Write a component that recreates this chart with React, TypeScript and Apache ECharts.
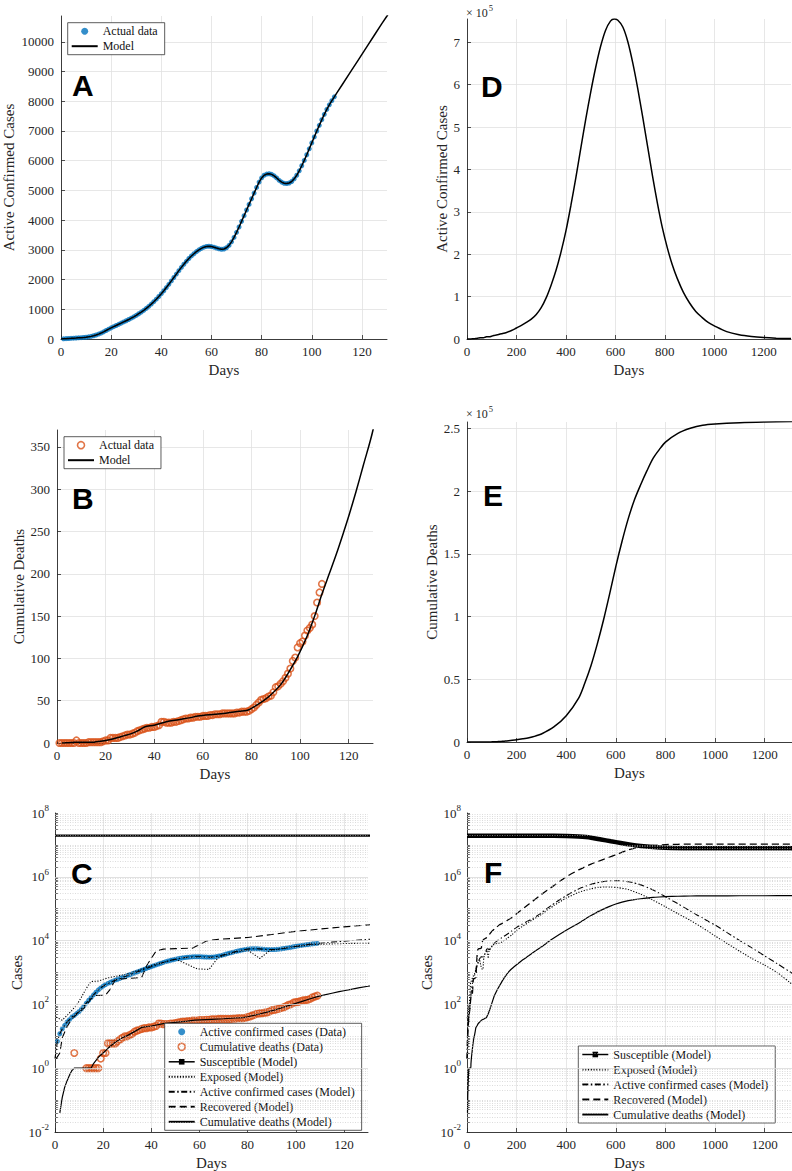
import React, { useEffect, useRef } from 'react';
import * as echarts from 'echarts';

// ---------- DATA ----------
const SHORT_DAYS_MAX = 130;
const LONG_DAYS_MAX = 1310;
const LOG_TICKS = [0.01, 1, 100, 1e4, 1e6, 1e8];

// Active confirmed cases (data), days 1..109
const ACTIVE_DATA = [
  7, 12, 17, 22, 28, 33, 40, 45, 52, 60,
  72, 88, 110, 135, 165, 200, 240, 285, 330, 375,
  415, 455, 495, 535, 575, 615, 655, 700, 745, 795,
  850, 905, 965, 1030, 1100, 1175, 1255, 1340, 1430, 1525,
  1625, 1730, 1840, 1955, 2070, 2185, 2300, 2410, 2515, 2615,
  2710, 2795, 2870, 2940, 3000, 3050, 3090, 3115, 3120, 3110,
  3090, 3060, 3035, 3020, 3030, 3070, 3150, 3270, 3420, 3590,
  3770, 3960, 4150, 4340, 4530, 4720, 4910, 5100, 5280, 5420,
  5510, 5550, 5560, 5540, 5490, 5420, 5340, 5280, 5240, 5230,
  5250, 5300, 5390, 5510, 5660, 5830, 6010, 6200, 6400, 6600,
  6800, 7000, 7190, 7380, 7560, 7730, 7880, 8020, 8150,
];

// Cumulative deaths (data), days 1..109
const DEATHS_DATA = [
  0, 0, 0, 0, 0, 0, 0, 3, 0, 0,
  0, 0, 1, 1, 1, 1, 1, 1, 2, 3,
  3, 6, 6, 6, 6, 7, 8, 9, 10, 10,
  11, 12, 14, 15, 16, 17, 18, 18, 19, 19,
  20, 21, 25, 25, 24, 24, 24, 25, 25, 26,
  27, 28, 29, 29, 30, 30, 31, 31, 31, 32,
  32, 32, 33, 33, 34, 34, 34, 35, 35, 35,
  35, 35, 35, 36, 36, 37, 37, 37, 38, 40,
  42, 45, 48, 51, 52, 53, 55, 56, 60, 66,
  67, 70, 73, 77, 82, 88, 97, 101, 113, 118,
  120, 127, 133, 136, 140, 150, 166, 178, 188,
];

// Model curves as [day, value]
const ACTIVE_MODEL_START = [[0, 2]];
const ACTIVE_MODEL_EXT = [
  [110, 8280], [112, 8540], [115, 8930], [118, 9320], [120, 9580],
  [122, 9840], [125, 10230], [128, 10620], [130, 10870],
];
const ACTIVE_MODEL_LONG = [
  [140, 12300], [160, 15500], [180, 20000], [200, 26000], [220, 32000],
  [240, 39000], [260, 47000], [280, 58000], [300, 74000], [320, 97000],
  [340, 127000], [360, 162000], [380, 205000], [400, 255000], [420, 315000],
  [440, 380000], [460, 450000], [480, 518000], [500, 582000], [520, 640000],
  [540, 690000], [560, 728000], [580, 750000], [595, 755000], [610, 752000],
  [630, 736000], [650, 702000], [670, 652000], [690, 592000], [710, 525000],
  [730, 455000], [750, 385000], [770, 320000], [790, 262000], [810, 215000],
  [830, 175000], [850, 143000], [875, 110000], [900, 85000], [925, 65000],
  [950, 51000], [975, 39000], [1000, 31000], [1050, 17500], [1100, 10000],
  [1150, 5800], [1200, 3300], [1250, 1900], [1310, 950],
];

const DEATHS_MODEL = [
  [2, 0.04], [3, 0.12], [4, 0.25], [5, 0.4], [6, 0.6], [7, 0.85], [8, 1],
  [15, 1], [16, 1.4], [18, 2.2], [20, 3], [22, 4.2], [25, 6.5], [28, 9],
  [30, 10.5], [33, 14], [36, 19], [40, 21], [45, 25], [50, 27.5], [55, 30],
  [58, 32], [65, 34], [70, 35.5], [75, 37.5], [78, 38.5], [80, 41], [85, 50],
  [88, 57], [92, 69], [95, 82], [99, 102], [103, 127], [106, 150], [109, 176],
  [112, 200], [115, 224], [118, 250], [120, 268], [123, 297], [126, 328], [130, 370],
];
const DEATHS_MODEL_LONG = [
  [140, 510], [150, 680], [160, 880], [175, 1200], [200, 1750], [225, 2500],
  [250, 3400], [275, 4700], [300, 6400], [350, 12000], [400, 21000],
  [450, 35000], [475, 47000], [500, 61000], [525, 78000], [550, 97000],
  [575, 118000], [600, 140000], [625, 160000], [650, 178000], [675, 193000],
  [700, 205000], [725, 216000], [750, 226000], [775, 233000], [800, 239000],
  [850, 246000], [900, 250000], [950, 252500], [1000, 253500], [1100, 254500],
  [1200, 255000], [1310, 255300],
];

const EXPOSED_MODEL = [
  [0.5, 40], [3, 32], [5, 45], [7, 65], [9, 95], [11, 170], [13, 320], [15, 520],
  [18, 540], [22, 680], [26, 780], [30, 900], [35, 1200], [40, 1650], [45, 2100],
  [50, 2600], [53, 2100], [56, 1650], [59, 1300], [64, 1250], [66, 2000],
  [68, 3000], [72, 3700], [76, 4500], [80, 5000], [82, 4000], [85, 2750],
  [87, 3600], [89, 4800], [95, 5800], [100, 6500], [105, 7200], [110, 7700],
  [120, 8100], [130, 8300],
];
const EXPOSED_MODEL_LONG = [
  [140, 9000], [160, 11500], [180, 15000], [200, 21000], [250, 38000],
  [300, 66000], [350, 125000], [400, 215000], [450, 325000], [500, 420000],
  [530, 465000], [555, 480000], [580, 478000], [610, 455000], [650, 400000],
  [700, 285000], [750, 185000], [800, 115000], [850, 70000], [900, 43000],
  [950, 25000], [1000, 14000], [1050, 8000], [1100, 4600], [1150, 2700],
  [1200, 1700], [1250, 1000], [1310, 430],
];

const RECOVERED_MODEL = [
  [0.5, 2], [2, 3], [3, 9], [5, 20], [7, 35], [9, 50], [12, 75], [15, 150],
  [17, 190], [21, 195], [23, 300], [25, 600], [30, 650], [36, 700], [38, 1600],
  [40, 2800], [42, 4700], [45, 5400], [50, 5600], [57, 5800], [60, 7500],
  [63, 9800], [68, 11000], [80, 12500], [90, 15500], [100, 19500],
  [110, 23000], [120, 27000], [130, 31000],
];
const RECOVERED_MODEL_LONG = [
  [140, 34000], [160, 42000], [180, 52000], [200, 70000], [250, 140000],
  [300, 280000], [350, 530000], [400, 1000000], [450, 1650000], [500, 2500000],
  [550, 3500000], [600, 4900000], [650, 7000000], [700, 8600000], [750, 9600000],
  [800, 10200000], [850, 10450000], [900, 10550000], [1000, 10600000], [1310, 10600000],
];

const SUSCEPTIBLE_MODEL = [
  [0, 1.95e7], [350, 1.93e7], [400, 1.9e7], [450, 1.82e7], [500, 1.68e7],
  [540, 1.48e7], [580, 1.3e7], [620, 1.15e7], [660, 1.02e7], [700, 9.3e6],
  [750, 8.6e6], [800, 8.2e6], [900, 7.9e6], [1000, 7.8e6], [1310, 7.8e6],
];

const PANEL_LETTERS = ['A', 'D', 'B', 'E', 'C', 'F'];

// ---------- STYLE ----------
const SERIF = "'Liberation Serif', 'Times New Roman', Times, serif";
const SANS = "'Liberation Sans', Arial, Helvetica, sans-serif";
const AX = '#262626';
const GRIDC = '#e1e1e1';
const BLUE = '#0072BD';
const ORANGE = '#D95319';

const DOTTED = [1.2, 1.6];
const DASHDOT = [6, 2.5, 1.5, 2.5];
const DASHED = [7, 4];

function minorLogValues() {
  const out: number[] = [];
  for (let e = -2; e < 8; e++) {
    for (let m = 1; m <= 9; m++) {
      if (m === 1 && e % 2 === 0) continue;
      out.push(m * Math.pow(10, e));
    }
  }
  return out;
}

function xAxisCfg(gridIndex: number, max: number, interval: number) {
  return {
    type: 'value', gridIndex, min: 0, max, interval,
    name: 'Days', nameLocation: 'middle', nameGap: 23,
    nameTextStyle: { fontFamily: SERIF, fontSize: 15, color: AX },
    axisLine: { show: true, onZero: false, lineStyle: { color: AX, width: 0.9 } },
    axisTick: { show: true, inside: true, length: 4, lineStyle: { color: AX, width: 0.8 } },
    axisLabel: {
      margin: 6, fontFamily: SERIF, fontSize: 13, color: AX, showMaxLabel: false,
      formatter: (v: number) => String(v),
    },
    splitLine: { show: true, showMinLine: false, showMaxLine: false, lineStyle: { color: GRIDC, width: 0.8 } },
  };
}

function yAxisLin(gridIndex: number, max: number, interval: number, name: string, nameGap: number, scale?: number) {
  return {
    type: 'value', gridIndex, min: 0, max, interval,
    name, nameLocation: 'middle', nameGap,
    nameTextStyle: { fontFamily: SERIF, fontSize: 15, color: AX },
    axisLine: { show: true, onZero: false, lineStyle: { color: AX, width: 0.9 } },
    axisTick: { show: true, inside: true, length: 4, lineStyle: { color: AX, width: 0.8 } },
    axisLabel: {
      margin: 7, fontFamily: SERIF, fontSize: 13, color: AX, showMaxLabel: false,
      formatter: (v: number) => (scale ? String(+(v / scale).toFixed(2)) : String(v)),
    },
    splitLine: { show: true, showMinLine: false, showMaxLine: false, lineStyle: { color: GRIDC, width: 0.8 } },
  };
}

function yAxisLog(gridIndex: number, name: string, nameGap: number, tickValues: number[]) {
  return {
    type: 'log', logBase: 10, gridIndex, min: 0.01, max: 1e8,
    name, nameLocation: 'middle', nameGap,
    nameTextStyle: { fontFamily: SERIF, fontSize: 15, color: AX },
    axisLine: { show: true, onZero: false, lineStyle: { color: AX, width: 0.9 } },
    axisTick: { show: true, inside: true, length: 3, customValues: tickValues, lineStyle: { color: AX, width: 0.7 } },
    axisLabel: {
      margin: 6, color: AX, customValues: LOG_TICKS, hideOverlap: false,
      formatter: (v: number) => '{b|10}{s|' + Math.round(Math.log10(v)) + '}',
      rich: {
        b: { fontFamily: SERIF, fontSize: 13, color: AX },
        s: { fontFamily: SERIF, fontSize: 9, color: AX, padding: [0, 0, 10, 0] },
      },
    },
    splitLine: { show: false },
  };
}

function legendCfg(left: number, top: number, names: any[]) {
  return {
    show: true, orient: 'vertical', left, top, data: names,
    formatter: (n: string) => n.split('|')[0],
    itemWidth: 26, itemHeight: 7, itemGap: 0,
    padding: [1, 7, 1, 3],
    borderColor: '#333', borderWidth: 0.8, backgroundColor: '#ffffff',
    selectedMode: false,
    textStyle: { fontFamily: SERIF, fontSize: 12, color: '#111', lineHeight: 15 },
  };
}

const pts = (arr: number[]) => arr.map((v, i) => [i + 1, v]);

export default function App() {
  const ref = useRef<HTMLDivElement>(null);

  useEffect(() => {
    if (!ref.current) return;
    const chart = echarts.init(ref.current, undefined, { renderer: 'svg' });

    const activeDataPts = pts(ACTIVE_DATA);
    const deathsDataPts = pts(DEATHS_DATA);
    const deathsDataLog = deathsDataPts.filter((p) => p[1] > 0);
    const activeModel = [...ACTIVE_MODEL_START, ...activeDataPts, ...ACTIVE_MODEL_EXT, ...ACTIVE_MODEL_LONG];
    const deathsModel = [...DEATHS_MODEL, ...DEATHS_MODEL_LONG];
    const exposedModel = [...EXPOSED_MODEL, ...EXPOSED_MODEL_LONG];
    const recoveredModel = [...RECOVERED_MODEL, ...RECOVERED_MODEL_LONG];
    const minor = minorLogValues();
    const allLogTicks = [...LOG_TICKS, ...minor].sort((a, b) => a - b);

    const lineBase = (name: string, idx: number, data: any[], width: number, type: any, extra: any = {}) => ({
      type: 'line', name, xAxisIndex: idx, yAxisIndex: idx, data,
      symbol: 'none', showSymbol: false, smooth: false, z: 3,
      lineStyle: { color: '#000', width, type },
      itemStyle: { color: '#000' },
      ...extra,
    });

    const blueDots = (name: string, idx: number) => ({
      type: 'scatter', name, xAxisIndex: idx, yAxisIndex: idx, data: activeDataPts,
      symbol: 'circle', symbolSize: 5, z: 2,
      itemStyle: { color: BLUE },
    });
    const orangeCircles = (name: string, idx: number, data: any[]) => ({
      type: 'scatter', name, xAxisIndex: idx, yAxisIndex: idx, data,
      symbol: 'circle', symbolSize: 6.5, z: 2,
      itemStyle: { color: 'rgba(255,255,255,0)', borderColor: ORANGE, borderWidth: 1.6 },
    });
    const logGrid = (idx: number) => [
      {
        type: 'line', name: 'minor' + idx, xAxisIndex: idx, yAxisIndex: idx, data: [],
        silent: true, z: 1,
        markLine: {
          silent: true, symbol: ['none', 'none'], label: { show: false },
          lineStyle: { color: '#c4c4c4', width: 0.6, type: [1, 1.5] },
          emphasis: { disabled: true },
          data: minor.map((v) => ({ yAxis: v })),
        },
      },
      {
        type: 'line', name: 'major' + idx, xAxisIndex: idx, yAxisIndex: idx, data: [],
        silent: true, z: 1,
        markLine: {
          silent: true, symbol: ['none', 'none'], label: { show: false },
          lineStyle: { color: '#d9d9d9', width: 0.8, type: 'solid' },
          emphasis: { disabled: true },
          data: LOG_TICKS.slice(1, -1).map((v) => ({ yAxis: v })),
        },
      },
    ];

    const hideSym = { color: 'rgba(0,0,0,0)', borderWidth: 0, opacity: 0 };
    const lineLegend = (n: string) => ({ name: n, itemStyle: hideSym });
    const susLegend = (n: string) => ({ name: n, lineStyle: { width: 1.5 }, itemStyle: { color: '#000' } });
    const circleLegend = (n: string) => ({
      name: n, itemStyle: { color: 'rgba(255,255,255,0)', borderColor: ORANGE, borderWidth: 1.6 },
    });

    const letterPos = [
      [72, 85.5], [481, 86.5], [72, 498], [483, 495.5], [71, 873], [484, 872],
    ];

    const option: any = {
      animation: false,
      backgroundColor: '#ffffff',
      grid: [
        { left: 61, top: 16, width: 326, height: 323 },   // A
        { left: 467, top: 19, width: 324, height: 320 },  // D
        { left: 57, top: 430, width: 316, height: 313 },  // B
        { left: 467, top: 422, width: 325, height: 320 }, // E
        { left: 55, top: 813, width: 313, height: 320 },  // C
        { left: 467, top: 813, width: 325, height: 319 }, // F
      ],
      xAxis: [
        xAxisCfg(0, SHORT_DAYS_MAX, 20),
        xAxisCfg(1, LONG_DAYS_MAX, 200),
        xAxisCfg(2, SHORT_DAYS_MAX, 20),
        xAxisCfg(3, LONG_DAYS_MAX, 200),
        xAxisCfg(4, SHORT_DAYS_MAX, 20),
        xAxisCfg(5, LONG_DAYS_MAX, 200),
      ],
      yAxis: [
        yAxisLin(0, 10870, 1000, 'Active Confirmed Cases', 45),
        yAxisLin(1, 755000, 100000, 'Active Confirmed Cases', 14, 1e5),
        yAxisLin(2, 370, 50, 'Cumulative Deaths', 29.5),
        yAxisLin(3, 255000, 50000, 'Cumulative Deaths', 26.5, 1e5),
        yAxisLog(4, 'Cases', 31, allLogTicks),
        yAxisLog(5, 'Cases', 33, allLogTicks),
      ],
      legend: [
        legendCfg(67.7, 22.7, ['Actual data|A', lineLegend('Model|A')]),
        legendCfg(64, 436.7, [circleLegend('Actual data|B'), lineLegend('Model|B')]),
        legendCfg(164.7, 1023.3, [
          'Active confirmed cases (Data)|C',
          circleLegend('Cumulative deaths (Data)|C'),
          susLegend('Susceptible (Model)|C'),
          lineLegend('Exposed (Model)|C'),
          lineLegend('Active confirmed cases (Model)|C'),
          lineLegend('Recovered (Model)|C'),
          lineLegend('Cumulative deaths (Model)|C'),
        ]),
        legendCfg(578.3, 1046, [
          susLegend('Susceptible (Model)|F'),
          lineLegend('Exposed (Model)|F'),
          lineLegend('Active confirmed cases (Model)|F'),
          lineLegend('Recovered (Model)|F'),
          lineLegend('Cumulative deaths (Model)|F'),
        ]),
      ],
      series: [
        // A
        blueDots('Actual data|A', 0),
        lineBase('Model|A', 0, activeModel, 1.5, 'solid'),
        // D
        lineBase('Active|D', 1, activeModel, 1.5, 'solid', { smooth: 0.3 }),
        // B
        orangeCircles('Actual data|B', 2, deathsDataPts),
        lineBase('Model|B', 2, deathsModel, 1.5, 'solid', { smooth: 0.3 }),
        // E
        lineBase('Deaths|E', 3, deathsModel, 1.5, 'solid', { smooth: 0.3 }),
        // C
        ...logGrid(4),
        blueDots('Active confirmed cases (Data)|C', 4),
        orangeCircles('Cumulative deaths (Data)|C', 4, deathsDataLog),
        lineBase('Susceptible (Model)|C', 4, SUSCEPTIBLE_MODEL, 2.2, 'solid', { symbol: 'rect', symbolSize: 3 }),
        lineBase('Exposed (Model)|C', 4, exposedModel, 1.1, DOTTED),
        lineBase('Active confirmed cases (Model)|C', 4, activeModel, 1.1, DASHDOT),
        lineBase('Recovered (Model)|C', 4, recoveredModel, 1.1, DASHED),
        lineBase('Cumulative deaths (Model)|C', 4, deathsModel, 1.2, 'solid'),
        // F
        ...logGrid(5),
        lineBase('Susceptible (Model)|F', 5, SUSCEPTIBLE_MODEL, 4.5, 'solid', { symbol: 'rect', symbolSize: 3, smooth: 0.3 }),
        lineBase('Exposed (Model)|F', 5, exposedModel, 1.1, DOTTED, { smooth: 0.2 }),
        lineBase('Active confirmed cases (Model)|F', 5, activeModel, 1.1, DASHDOT, { smooth: 0.2 }),
        lineBase('Recovered (Model)|F', 5, recoveredModel, 1.3, DASHED, { smooth: 0.2 }),
        lineBase('Cumulative deaths (Model)|F', 5, deathsModel, 1.2, 'solid', { smooth: 0.2 }),
      ],
      graphic: [
        ...PANEL_LETTERS.map((t, i) => ({
          type: 'text', x: letterPos[i][0], y: letterPos[i][1], z: 50,
          style: {
            text: t, fill: '#000', fontFamily: SANS, fontWeight: 'bold', fontSize: 30,
            textAlign: 'left', textVerticalAlign: 'middle',
          },
        })),
        ...[[466, 12.5], [466, 413.5]].map((p) => ({
          type: 'text', x: p[0], y: p[1], z: 50,
          style: {
            text: '{b|× 10}{s|5}', textVerticalAlign: 'middle', textAlign: 'left',
            rich: {
              b: { fontFamily: SERIF, fontSize: 12, fill: AX },
              s: { fontFamily: SERIF, fontSize: 8.5, fill: AX, padding: [0, 0, 9, 1] },
            },
          },
        })),
      ],
    };

    chart.setOption(option);
    return () => chart.dispose();
  }, []);

  return (
    <div
      ref={ref}
      style={{ position: 'absolute', left: 0, top: 0, width: 792, height: 1171, background: '#fff' }}
    />
  );
}
